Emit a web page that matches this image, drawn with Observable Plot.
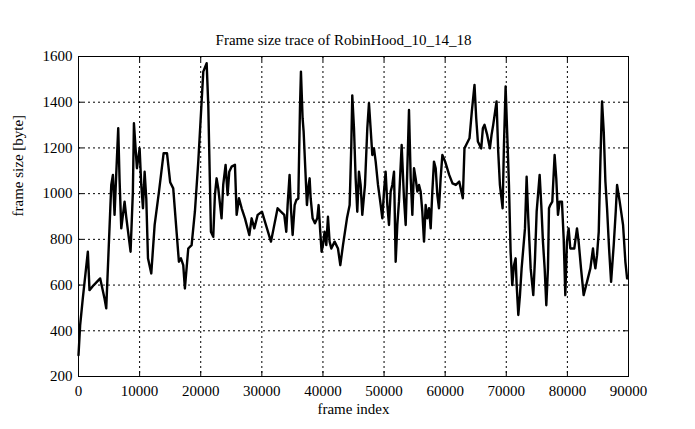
<!DOCTYPE html>
<html>
<head>
<meta charset="utf-8">
<script src="https://cdn.jsdelivr.net/npm/d3@7"></script>
<script src="https://cdn.jsdelivr.net/npm/@observablehq/plot@0.6"></script>
<style>
  html, body { margin: 0; padding: 0; background: white; }
</style>
</head>
<body>
<div id="chart"></div>
<script>
const titleText = "Frame size trace of RobinHood_10_14_18";
const xLabel = "frame index";
const yLabel = "frame size [byte]";
const xTicks = [0, 10000, 20000, 30000, 40000, 50000, 60000, 70000, 80000, 90000];
const yTicks = [200, 400, 600, 800, 1000, 1200, 1400, 1600];

const frames = [
  0, 270, 700, 1530, 1800, 2500, 3550, 4260, 4540, 5360, 5630, 5900, 6170, 6500, 6720, 7000, 7540, 7810, 8520, 8900,
  9070, 9340, 9560, 10000, 10270, 10550, 10820, 11090, 11370, 11910, 12460, 13170, 13930, 14480, 15000, 15500, 16050, 16430, 16760, 17140,
  17410, 17960, 18510, 19050, 19600, 20150, 20420, 20970, 21240, 21510, 21670, 22050, 22320, 22600, 22870, 23410, 23680, 24070, 24400, 24670,
  25050, 25600, 25880, 26260, 26700, 27240, 27950, 28330, 28770, 29320, 30020, 30840, 31490, 31930, 32580, 33120, 33670, 34000, 34220, 34540,
  34760, 35040, 35370, 35640, 35970, 36240, 36400, 36670, 36840, 37110, 37380, 37660, 37820, 37990, 38310, 38690, 39070, 39290, 39560, 39780,
  40000, 40270, 40550, 40820, 41090, 41370, 41910, 42460, 42840, 43280, 43930, 44370, 44640, 44800, 45080, 45350, 45620, 45890, 46170, 46440,
  46880, 47260, 47530, 47800, 48080, 48350, 48630, 49010, 49450, 49720, 49990, 50260, 50540, 50810, 51080, 51350, 51630, 51900, 52170, 52440,
  52880, 53260, 53540, 53810, 54080, 54360, 54630, 54900, 55170, 55450, 55720, 55990, 56260, 56540, 56810, 57080, 57360, 57630, 57900, 58170,
  58450, 58720, 58990, 59260, 59540, 60000, 60660, 61200, 61750, 62300, 62890, 63160, 63430, 63980, 64360, 64800, 65080, 65350, 65900, 66170,
  66440, 66880, 67320, 67590, 67860, 68410, 68680, 68960, 69400, 69620, 69890, 70160, 70440, 70710, 70980, 71260, 71530, 71700, 71970, 72240,
  72510, 73060, 73330, 73600, 73990, 74420, 74700, 74970, 75460, 75730, 76000, 76280, 76550, 76820, 76990, 77200, 77530, 77910, 78180, 78460,
  78730, 79110, 79390, 79660, 79930, 80200, 80480, 80750, 81130, 81570, 81840, 82230, 82660, 83210, 83760, 84190, 84410, 84580, 84850, 85130,
  85400, 85670, 85950, 86220, 86490, 86820, 87150, 87580, 87910, 88130, 88560, 89110, 89490, 89770
];
const sizes = [
  293, 425, 541, 746, 578, 600, 629, 541, 498, 1038, 1082, 907, 1082, 1286, 1060, 848, 965, 898, 746, 1009,
  1308, 1198, 1111, 1198, 1038, 936, 1096, 980, 717, 651, 863, 1009, 1177, 1177, 1050, 1023, 833, 702, 717, 687,
  585, 760, 775, 922, 1140, 1403, 1534, 1571, 1385, 1038, 833, 811, 994, 1067, 1023, 892, 1038, 1126, 994, 1096,
  1118, 1126, 907, 980, 936, 892, 819, 892, 848, 907, 921, 848, 790, 848, 936, 921, 907, 833, 950, 1082,
  936, 819, 950, 972, 979, 1374, 1534, 1330, 1271, 1111, 950, 1038, 1067, 980, 892, 870, 892, 950, 833, 746,
  775, 833, 775, 899, 790, 760, 790, 760, 687, 775, 892, 950, 1213, 1430, 1286, 1067, 921, 1096, 1038, 907,
  1038, 1286, 1396, 1286, 1169, 1198, 1140, 1038, 950, 892, 1009, 1096, 950, 863, 1009, 1038, 1096, 702, 863, 965,
  1213, 980, 863, 1111, 1366, 1067, 907, 1111, 1067, 1009, 1038, 1009, 921, 790, 950, 892, 936, 848, 1009, 1140,
  1111, 994, 936, 1067, 1169, 1140, 1082, 1045, 1038, 1053, 980, 1198, 1213, 1242, 1359, 1476, 1330, 1228, 1198, 1286,
  1301, 1257, 1198, 1257, 1301, 1403, 1184, 1038, 936, 1213, 1469, 1257, 1038, 746, 600, 687, 717, 600, 469, 556,
  673, 848, 1074, 892, 673, 556, 717, 921, 1082, 950, 790, 673, 512, 673, 936, 950, 965, 1169, 1067, 907,
  965, 965, 805, 556, 790, 848, 760, 760, 760, 848, 790, 673, 556, 614, 673, 760, 702, 673, 731, 833,
  1140, 1403, 1271, 1053, 936, 760, 614, 775, 921, 1038, 965, 863, 702, 629
];

const data = frames.map((f, i) => ({frame: f, size: sizes[i]}));
const fmt = d3.format("d");

const chart = Plot.plot({
  width: 695,
  height: 429,
  marginLeft: 78,
  marginRight: 67,
  marginTop: 56,
  marginBottom: 53,
  style: {fontFamily: "'Liberation Serif', 'Times New Roman', serif", fontSize: "15px", background: "white", color: "black"},
  x: {domain: [0, 90000], label: null},
  y: {domain: [200, 1600], label: null},
  marks: [
    Plot.gridX(xTicks, {stroke: "black", strokeOpacity: 1, strokeDasharray: "2,3"}),
    Plot.gridY(yTicks, {stroke: "black", strokeOpacity: 1, strokeDasharray: "2,3"}),
    Plot.ruleY(yTicks, {stroke: "black", insetRight: 545}),
    Plot.ruleY(yTicks, {stroke: "black", insetLeft: 545}),
    Plot.ruleX(xTicks, {stroke: "black", insetBottom: 315}),
    Plot.ruleX(xTicks, {stroke: "black", insetTop: 315}),
    Plot.frame({stroke: "black"}),
    Plot.axisX(xTicks, {tickSize: 0, tickPadding: 9, tickFormat: fmt, label: null}),
    Plot.axisY(yTicks, {tickSize: 0, tickPadding: 6, tickFormat: fmt, label: null}),
    Plot.line(data, {x: "frame", y: "size", stroke: "black", strokeWidth: 2.4}),
    Plot.text([titleText], {frameAnchor: "top", dy: -22, dx: -10, fontSize: 15}),
    Plot.text([xLabel], {frameAnchor: "bottom", dy: 37, fontSize: 15}),
    Plot.text([yLabel], {frameAnchor: "left", dx: -60, rotate: -90, fontSize: 15})
  ]
});
document.getElementById("chart").appendChild(chart);
</script>
</body>
</html>
